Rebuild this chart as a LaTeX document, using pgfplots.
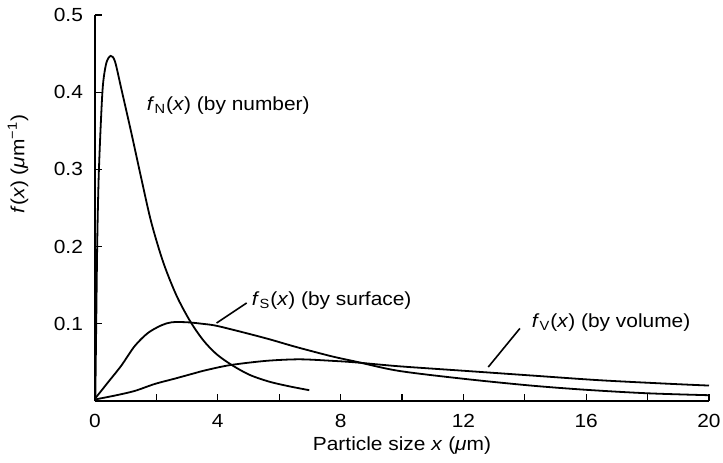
\documentclass[border=0pt]{standalone}
\usepackage{fontspec}
\setmainfont{Liberation Sans}[FakeStretch=1.1]
\usepackage{pgfplots}
\pgfplotsset{compat=1.18}

\begin{document}
\begin{tikzpicture}
\path[use as bounding box] (-47.5pt,-30.5pt) rectangle (314pt,200.5pt);
\begin{axis}[
  at={(0,0)}, anchor=south west,
  scale only axis, width=307pt, height=193pt,
  xmin=0, xmax=20, ymin=0, ymax=0.5,
  axis lines*=left,
  axis line style={line width=0.75pt},
  tick align=inside, major tick length=3.5pt,
  tick style={black, line width=0.6pt},
  xtick={0,2,...,20}, xticklabels={0,,4,,8,,12,,16,,20},
  ytick={0.1,0.2,0.3,0.4,0.5}, yticklabels={0.1,0.2,0.3,0.4,0.5},
  xticklabel style={yshift=-3pt},
  yticklabel style={xshift=-2.5pt},
  font=\fontsize{9.5}{11}\selectfont,
  xlabel={Particle size \textit{x} (\textit{μ}m)},
  ylabel={\textit{f}(\textit{x}) (\textit{μ}m\textsuperscript{−1})},
  every axis x label/.style={at={(axis description cs:0.5,0)}, anchor=center, yshift=-22.5pt},
  every axis y label/.style={at={(axis description cs:-0.1254,0.614)}, anchor=center, rotate=90},
]

% f_N (by number)
\addplot[black, line width=0.9pt, smooth] coordinates {
  (0.01,0.0) (0.04,0.10) (0.075,0.21) (0.12,0.29) (0.19,0.36) (0.26,0.41)
  (0.37,0.438) (0.51,0.447) (0.65,0.44) (0.86,0.404) (1.18,0.348)
  (1.51,0.288) (1.83,0.232) (2.22,0.180) (2.65,0.137) (3.09,0.104)
  (3.52,0.079) (3.95,0.061) (4.44,0.047) (5.03,0.034) (5.68,0.025)
  (6.33,0.019) (6.98,0.014)
};

% f_S (by surface)
\addplot[black, line width=0.9pt, smooth] coordinates {
  (0,0.003) (0.42,0.024) (0.86,0.046) (1.29,0.071) (1.72,0.088) (2.16,0.098)
  (2.5,0.102) (3.0,0.102) (3.5,0.100) (3.95,0.0975) (4.82,0.089) (5.68,0.080)
  (6.55,0.070) (7.7,0.058) (8.5,0.051) (9.9,0.039) (12.07,0.0285)
  (14.2,0.020) (16,0.0145) (18,0.010) (20,0.0075)
};

% f_V (by volume)
\addplot[black, line width=0.9pt, smooth] coordinates {
  (0,0.002) (0.64,0.007) (1.29,0.013) (1.94,0.022) (2.6,0.029) (3.24,0.036)
  (3.62,0.040) (4.4,0.0465) (5.57,0.052) (6.66,0.054) (7.74,0.052) (8.5,0.050)
  (9.9,0.045) (12.07,0.039) (14.23,0.033) (16.4,0.027) (18.6,0.0225) (20,0.020)
};

\draw[line width=0.8pt] (axis cs:3.96,0.101) -- (axis cs:4.94,0.127);
\draw[line width=0.8pt] (axis cs:12.81,0.044) -- (axis cs:13.84,0.094);

\node[anchor=west, inner sep=0pt] at (axis cs:1.68,0.383) {\textit{f}\textsubscript{N}(\textit{x}) (by number)};
\node[anchor=west, inner sep=0pt] at (axis cs:5.1,0.13) {\textit{f}\textsubscript{S}(\textit{x}) (by surface)};
\node[anchor=west, inner sep=0pt] at (axis cs:14.22,0.101) {\textit{f}\textsubscript{V}(\textit{x}) (by volume)};

\end{axis}
\end{tikzpicture}
\end{document}
